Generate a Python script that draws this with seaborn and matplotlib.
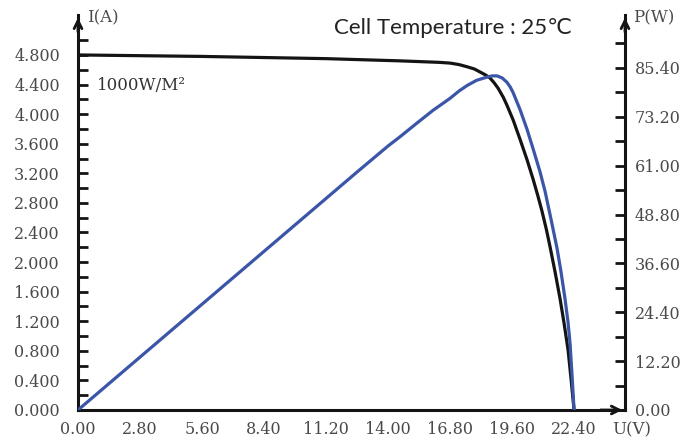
import numpy as np
import pandas as pd
import matplotlib
matplotlib.use('Agg')
import matplotlib.pyplot as plt
import seaborn as sns

# I-V curve (black)
u_iv = [0.0, 5.6, 11.2, 14.54, 16.3, 16.8, 17.2, 17.57, 17.9, 18.15, 18.4, 18.6,
        18.8, 18.97, 19.2, 19.37, 19.65, 19.96, 20.28, 20.55, 20.77, 20.95,
        21.15, 21.32, 21.54, 21.77, 21.95, 22.13, 22.27, 22.40]
i_iv = [4.80, 4.78, 4.75, 4.72, 4.70, 4.69, 4.67, 4.64, 4.61, 4.57, 4.53, 4.49,
        4.42, 4.35, 4.23, 4.12, 3.92, 3.66, 3.38, 3.12, 2.89, 2.69,
        2.44, 2.20, 1.87, 1.50, 1.17, 0.81, 0.40, 0.0]

# P-V curve (blue)
u_pv = [0.0, 4.2, 8.4, 12.6, 14.0, 14.54, 15.3, 16.03, 16.8, 17.2, 17.57, 18.0,
        18.47, 18.7, 18.92, 19.15, 19.37, 19.52, 19.65, 19.96, 20.28, 20.55,
        20.86, 21.09, 21.36, 21.63, 21.81, 21.99, 22.13, 22.22, 22.31, 22.40]
p_pv = [0.0, 19.8, 39.6, 59.4, 65.9, 68.2, 71.6, 74.8, 77.8, 79.6, 81.0, 82.3,
        83.1, 83.4, 83.4, 82.9, 81.8, 80.6, 79.2, 75.0, 70.0, 65.2,
        59.5, 54.6, 47.6, 40.4, 34.5, 27.8, 21.8, 16.5, 8.5, 0.0]

x_ticks = [0.0, 2.8, 5.6, 8.4, 11.2, 14.0, 16.8, 19.6, 22.4]
i_ticks = [0.0, 0.4, 0.8, 1.2, 1.6, 2.0, 2.4, 2.8, 3.2, 3.6, 4.0, 4.4, 4.8]
p_ticks = [0.0, 12.2, 24.4, 36.6, 48.8, 61.0, 73.2, 85.4]

df_iv = pd.DataFrame({'U': u_iv, 'I': i_iv})
df_pv = pd.DataFrame({'U': u_pv, 'P': p_pv})

sns.set_style('white')
plt.rcParams['font.family'] = ['DejaVu Serif']

blue = '#3b55a8'
dark = '#141414'
grey = '#4a4a4a'

fig = plt.figure(figsize=(6.82, 4.37), dpi=100)
ax = fig.add_axes([78 / 682, 27 / 437, 547 / 682, 395 / 437])
ax2 = ax.twinx()

sns.lineplot(data=df_iv, x='U', y='I', ax=ax, color=dark, lw=2.3)
sns.lineplot(data=df_pv, x='U', y='P', ax=ax2, color=blue, lw=2.3)

ax.set_xlim(0, 24.7)
ax.set_ylim(0, 5.34)
ax2.set_ylim(0, 98.6)

ax.set_xticks(x_ticks)
ax.set_xticklabels([f'{v:.2f}' for v in x_ticks])
ax.set_xticks(np.arange(1.4, 24.0, 2.8), minor=True)
ax.set_yticks(i_ticks)
ax.set_yticklabels([f'{v:.3f}' for v in i_ticks])
ax.set_yticks(np.arange(0.2, 5.3, 0.4), minor=True)
ax2.set_yticks(p_ticks)
ax2.set_yticklabels([f'{v:.2f}' for v in p_ticks])
ax2.set_yticks(np.arange(6.1, 98, 12.2), minor=True)

for a in (ax, ax2):
    a.set_xlabel('')
    a.set_ylabel('')
    a.spines['top'].set_visible(False)
    for s in a.spines.values():
        s.set_linewidth(2.2)
        s.set_color(dark)
ax.spines['right'].set_visible(False)
ax2.spines['left'].set_visible(False)
ax2.spines['bottom'].set_visible(False)

ax.tick_params(axis='x', which='both', direction='in', length=7, width=2, colors=dark,
               labelsize=11.5, labelcolor=grey, pad=8)
ax.tick_params(axis='y', which='both', direction='in', length=7, width=2, colors=dark,
               labelsize=11.5, labelcolor=grey, pad=13)
ax2.tick_params(axis='y', which='both', direction='in', length=7, width=2, colors=dark,
                labelsize=11.5, labelcolor=grey, pad=7)

# axis arrows
arrow = dict(arrowstyle='->', lw=2, color=dark, mutation_scale=14)
ax.annotate('', xy=(0, 1.0), xytext=(0, 0.95), xycoords='axes fraction', arrowprops=arrow)
ax.annotate('', xy=(1, 1.0), xytext=(1, 0.95), xycoords='axes fraction', arrowprops=arrow)
ax.annotate('', xy=(1.0, 0), xytext=(0.95, 0), xycoords='axes fraction', arrowprops=arrow)

fig.text(87 / 682, 1 - 18 / 437, 'I(A)', fontsize=12, color=grey, va='center', ha='left')
fig.text(633 / 682, 1 - 18 / 437, 'P(W)', fontsize=12, color=grey, va='center', ha='left')
fig.text(612 / 682, 1 - 430 / 437, 'U(V)', fontsize=12, color=grey, va='center', ha='left')
fig.text(97 / 682, 1 - 86 / 437, '1000W/M²', fontsize=12, color='#333333', va='center', ha='left')
fig.text(453 / 682, 1 - 28 / 437, 'Cell Temperature : 25℃', fontsize=16, color='#222222',
         va='center', ha='center', family=['Lato', 'DejaVu Sans'])

fig.savefig('out.png', dpi=100)
